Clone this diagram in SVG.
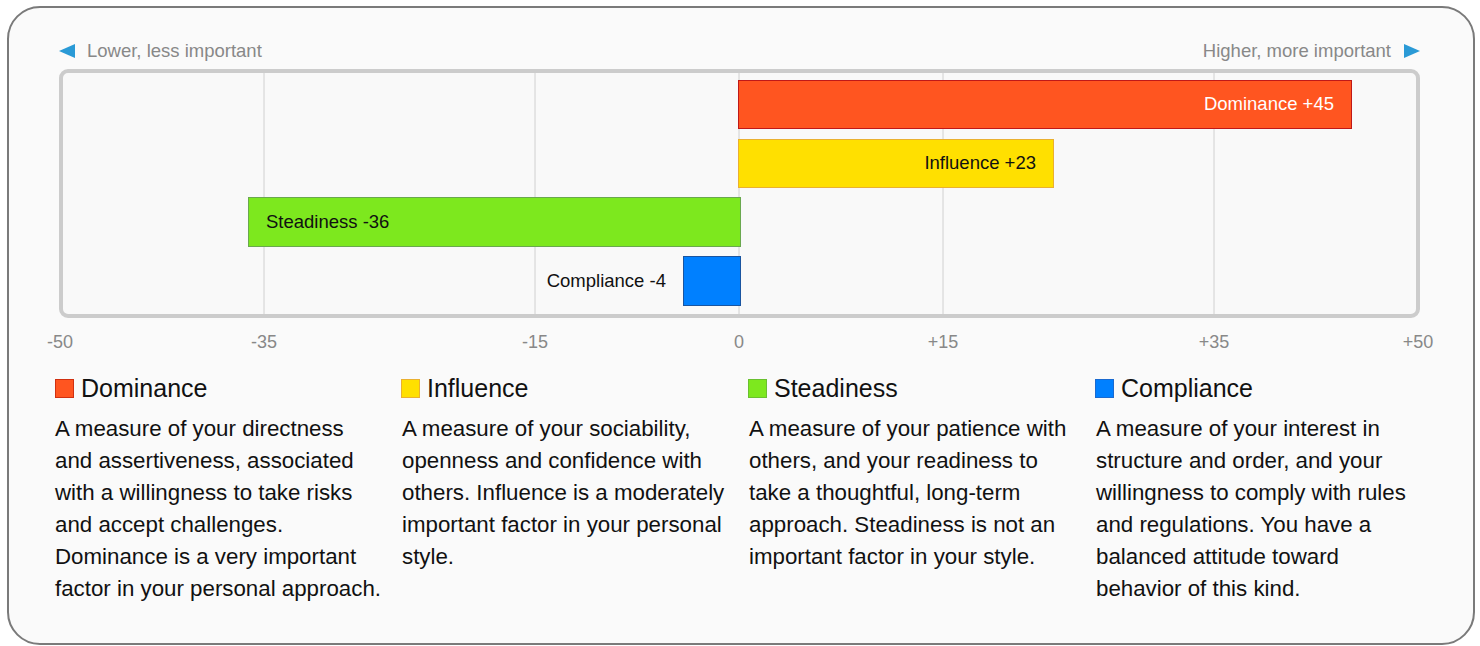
<svg xmlns="http://www.w3.org/2000/svg" width="1480" height="646" viewBox="0 0 1480 646">
<style>
text{font-family:"Liberation Sans",Arial,sans-serif}
.hint{font-size:18.5px;fill:#888}
.axis{font-size:18px;fill:#888;text-anchor:middle}
.grid{stroke:#d0d0d0;stroke-width:1}
.bl{font-size:18.5px}
.head{font-size:25px;fill:#111}
.desc{font-size:22.3px;fill:#111}
</style>
<rect x="8" y="7" width="1466" height="637" rx="32" fill="#fafafa" stroke="#7a7a7a" stroke-width="2"/>
<g id="hints">
<polygon points="59,51 75,44 75,58" fill="#2a9ad6"/>
<text class="hint" x="87" y="57">Lower, less important</text>
<text class="hint" x="1391" y="57" text-anchor="end">Higher, more important</text>
<polygon points="1420,51 1404,44 1404,58" fill="#2a9ad6"/>
</g>
<g id="chart">
<rect x="61" y="71" width="1357" height="245" rx="7" fill="#f9f9f9" stroke="#cccccc" stroke-width="4"/>
<line class="grid" x1="264" y1="73" x2="264" y2="314"/>
<line class="grid" x1="535" y1="73" x2="535" y2="314"/>
<line class="grid" x1="739" y1="73" x2="739" y2="314"/>
<line class="grid" x1="943" y1="73" x2="943" y2="314"/>
<line class="grid" x1="1214" y1="73" x2="1214" y2="314"/>
</g>
<g id="bar-dominance">
<rect x="738.5" y="80.5" width="613" height="48" fill="#ff5520" stroke="#c01818" stroke-width="1"/>
<text class="bl" x="1334" y="110" text-anchor="end" fill="#ffffff">Dominance +45</text>
</g>
<g id="bar-influence">
<rect x="738.5" y="139.5" width="315" height="48" fill="#ffe000" stroke="#eab030" stroke-width="1"/>
<text class="bl" x="1036" y="169" text-anchor="end" fill="#111">Influence +23</text>
</g>
<g id="bar-steadiness">
<rect x="248.5" y="197.5" width="492" height="49" fill="#7de81e" stroke="#6aa84f" stroke-width="1"/>
<text class="bl" x="266" y="228" fill="#111">Steadiness -36</text>
</g>
<g id="bar-compliance">
<rect x="683.5" y="256.5" width="57" height="49" fill="#0080ff" stroke="#1a55a0" stroke-width="1"/>
<text class="bl" x="666" y="287" text-anchor="end" fill="#111">Compliance -4</text>
</g>
<g id="axis">
<text class="axis" x="60" y="348">-50</text>
<text class="axis" x="264" y="348">-35</text>
<text class="axis" x="535" y="348">-15</text>
<text class="axis" x="739" y="348">0</text>
<text class="axis" x="943" y="348">+15</text>
<text class="axis" x="1214" y="348">+35</text>
<text class="axis" x="1418" y="348">+50</text>
</g>
<g id="legend-dominance">
<rect x="55.5" y="379.5" width="18" height="18" fill="#ff5520" stroke="#d03010" stroke-width="1"/>
<text class="head" x="81" y="397">Dominance</text>
<text class="desc" x="55" y="436">A measure of your directness</text>
<text class="desc" x="55" y="468">and assertiveness, associated</text>
<text class="desc" x="55" y="500">with a willingness to take risks</text>
<text class="desc" x="55" y="532">and accept challenges.</text>
<text class="desc" x="55" y="564">Dominance is a very important</text>
<text class="desc" x="55" y="596">factor in your personal approach.</text>
</g>
<g id="legend-influence">
<rect x="401.5" y="379.5" width="18" height="18" fill="#ffe000" stroke="#eab030" stroke-width="1"/>
<text class="head" x="427" y="397">Influence</text>
<text class="desc" x="402" y="436">A measure of your sociability,</text>
<text class="desc" x="402" y="468">openness and confidence with</text>
<text class="desc" x="402" y="500">others. Influence is a moderately</text>
<text class="desc" x="402" y="532">important factor in your personal</text>
<text class="desc" x="402" y="564">style.</text>
</g>
<g id="legend-steadiness">
<rect x="748.5" y="379.5" width="18" height="18" fill="#7de81e" stroke="#6ac030" stroke-width="1"/>
<text class="head" x="774" y="397">Steadiness</text>
<text class="desc" x="749" y="436">A measure of your patience with</text>
<text class="desc" x="749" y="468">others, and your readiness to</text>
<text class="desc" x="749" y="500">take a thoughtful, long-term</text>
<text class="desc" x="749" y="532">approach. Steadiness is not an</text>
<text class="desc" x="749" y="564">important factor in your style.</text>
</g>
<g id="legend-compliance">
<rect x="1095.5" y="379.5" width="18" height="18" fill="#0080ff" stroke="#1a6ad0" stroke-width="1"/>
<text class="head" x="1121" y="397">Compliance</text>
<text class="desc" x="1096" y="436">A measure of your interest in</text>
<text class="desc" x="1096" y="468">structure and order, and your</text>
<text class="desc" x="1096" y="500">willingness to comply with rules</text>
<text class="desc" x="1096" y="532">and regulations. You have a</text>
<text class="desc" x="1096" y="564">balanced attitude toward</text>
<text class="desc" x="1096" y="596">behavior of this kind.</text>
</g>
</svg>
